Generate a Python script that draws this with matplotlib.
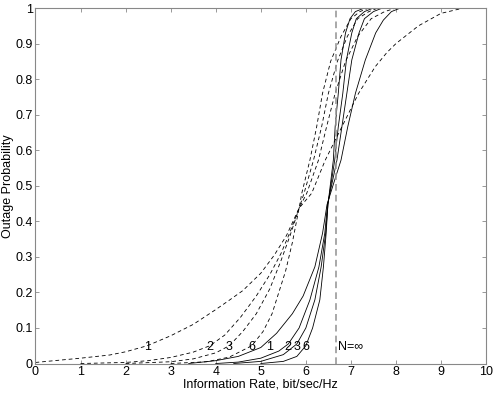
import matplotlib
matplotlib.use("Agg")
import matplotlib.pyplot as plt

# outage curves: (rate, probability) pairs per curve
# dashed set, N = 1, 2, 3, 6
dash1_x = [0.0, 1.0, 1.65, 2.0, 2.48, 3.0, 3.5, 3.98, 4.3, 4.6, 5.0, 5.3, 5.57, 5.85, 6.13, 6.43, 6.8, 7.17, 7.54, 7.8, 8.0, 8.5, 9.0, 9.5]
dash1_p = [0.003, 0.015, 0.024, 0.033, 0.05, 0.078, 0.11, 0.15, 0.178, 0.205, 0.254, 0.305, 0.36, 0.437, 0.479, 0.572, 0.666, 0.76, 0.835, 0.875, 0.9, 0.95, 0.985, 1.0]
dash2_x = [1.0, 2.0, 2.5, 3.0, 3.5, 3.87, 4.2, 4.55, 4.9, 5.2, 5.45, 5.65, 5.85, 6.02, 6.28, 6.46, 6.65, 6.88, 7.15, 7.45, 7.75, 8.0]
dash2_p = [0.0, 0.003, 0.008, 0.017, 0.032, 0.05, 0.08, 0.13, 0.19, 0.25, 0.31, 0.37, 0.437, 0.479, 0.572, 0.666, 0.76, 0.85, 0.92, 0.97, 0.99, 1.0]
dash3_x = [2.0, 3.0, 3.5, 4.0, 4.3, 4.6, 4.9, 5.2, 5.45, 5.65, 5.85, 5.96, 6.17, 6.35, 6.5, 6.7, 6.92, 7.15, 7.4, 7.6]
dash3_p = [0.0, 0.005, 0.013, 0.03, 0.05, 0.09, 0.14, 0.21, 0.29, 0.36, 0.437, 0.479, 0.572, 0.666, 0.76, 0.85, 0.92, 0.97, 0.99, 1.0]
dash6_x = [3.0, 3.8, 4.3, 4.8, 5.05, 5.25, 5.4, 5.55, 5.7, 5.85, 5.91, 6.09, 6.24, 6.37, 6.55, 6.78, 7.0, 7.2, 7.4]
dash6_p = [0.0, 0.005, 0.018, 0.05, 0.09, 0.14, 0.2, 0.26, 0.34, 0.437, 0.479, 0.572, 0.666, 0.76, 0.85, 0.92, 0.97, 0.99, 1.0]

# solid set, N = 1, 2, 3, 6
solid1_x = [3.4, 4.0, 4.5, 5.0, 5.35, 5.7, 5.94, 6.2, 6.37, 6.47, 6.6, 6.78, 6.93, 7.1, 7.32, 7.55, 7.72, 7.9, 8.1]
solid1_p = [0.0, 0.008, 0.02, 0.045, 0.085, 0.14, 0.19, 0.272, 0.366, 0.447, 0.5, 0.572, 0.666, 0.76, 0.854, 0.93, 0.966, 0.99, 1.0]
solid2_x = [4.0, 4.5, 5.0, 5.4, 5.61, 5.85, 6.09, 6.29, 6.42, 6.48, 6.69, 6.8, 6.91, 7.02, 7.18, 7.3, 7.5, 7.7]
solid2_p = [0.0, 0.004, 0.015, 0.035, 0.055, 0.1, 0.179, 0.272, 0.366, 0.447, 0.572, 0.666, 0.76, 0.854, 0.93, 0.97, 0.99, 1.0]
solid3_x = [4.4, 5.0, 5.5, 5.8, 6.0, 6.2, 6.34, 6.44, 6.49, 6.64, 6.72, 6.82, 6.9, 7.02, 7.12, 7.3, 7.5]
solid3_p = [0.0, 0.006, 0.025, 0.055, 0.1, 0.179, 0.272, 0.366, 0.447, 0.572, 0.666, 0.76, 0.854, 0.93, 0.97, 0.99, 1.0]
solid6_x = [5.0, 5.5, 5.8, 6.0, 6.15, 6.31, 6.39, 6.45, 6.49, 6.61, 6.65, 6.72, 6.78, 6.88, 6.98, 7.1, 7.3]
solid6_p = [0.0, 0.006, 0.02, 0.05, 0.1, 0.179, 0.272, 0.366, 0.447, 0.572, 0.666, 0.76, 0.854, 0.93, 0.97, 0.99, 1.0]

n_inf_rate = 6.68

label_text = ["1", "2", "3", "6", "1", "2", "3", "6"]
label_x = [2.48, 3.87, 4.3, 4.8, 5.2, 5.61, 5.8, 6.0]
label_y = 0.047

plt.rcParams['font.family'] = ['Liberation Sans', 'DejaVu Sans']
plt.rcParams['font.size'] = 9

fig = plt.figure(figsize=(4.95, 3.95), dpi=100)
ax = fig.add_axes([0.0717, 0.0797, 0.9103, 0.9])

for xs, ps in [(dash1_x, dash1_p), (dash2_x, dash2_p), (dash3_x, dash3_p), (dash6_x, dash6_p)]:
    ax.plot(xs, ps, color='black', lw=0.6, dashes=(4.5, 3.5))
for xs, ps in [(solid1_x, solid1_p), (solid2_x, solid2_p), (solid3_x, solid3_p), (solid6_x, solid6_p)]:
    ax.plot(xs, ps, color='black', lw=0.6)

ax.axvline(n_inf_rate, color='#999999', lw=1.2, dashes=(4, 2.5))

for t, x in zip(label_text, label_x):
    ax.text(x, label_y, t, ha='center', va='center', fontsize=9)
ax.text(n_inf_rate + 0.03, label_y, 'N=\u221e', ha='left', va='center', fontsize=9)

ax.set_xlim(0, 10)
ax.set_ylim(0, 1)
ax.set_xticks(range(0, 11))
ax.set_yticks([i / 10 for i in range(11)])
ax.set_yticklabels(['0'] + ['%.1f' % (i / 10) for i in range(1, 10)] + ['1'])
ax.tick_params(direction='in', top=True, right=True, length=3, width=0.6, color='#888888', pad=2)
for s in ax.spines.values():
    s.set_color('#888888')
    s.set_linewidth(0.8)

ax.set_xlabel('Information Rate, bit/sec/Hz', labelpad=0)
ax.set_ylabel('Outage Probability', labelpad=1)

fig.savefig('out.png', dpi=100)
